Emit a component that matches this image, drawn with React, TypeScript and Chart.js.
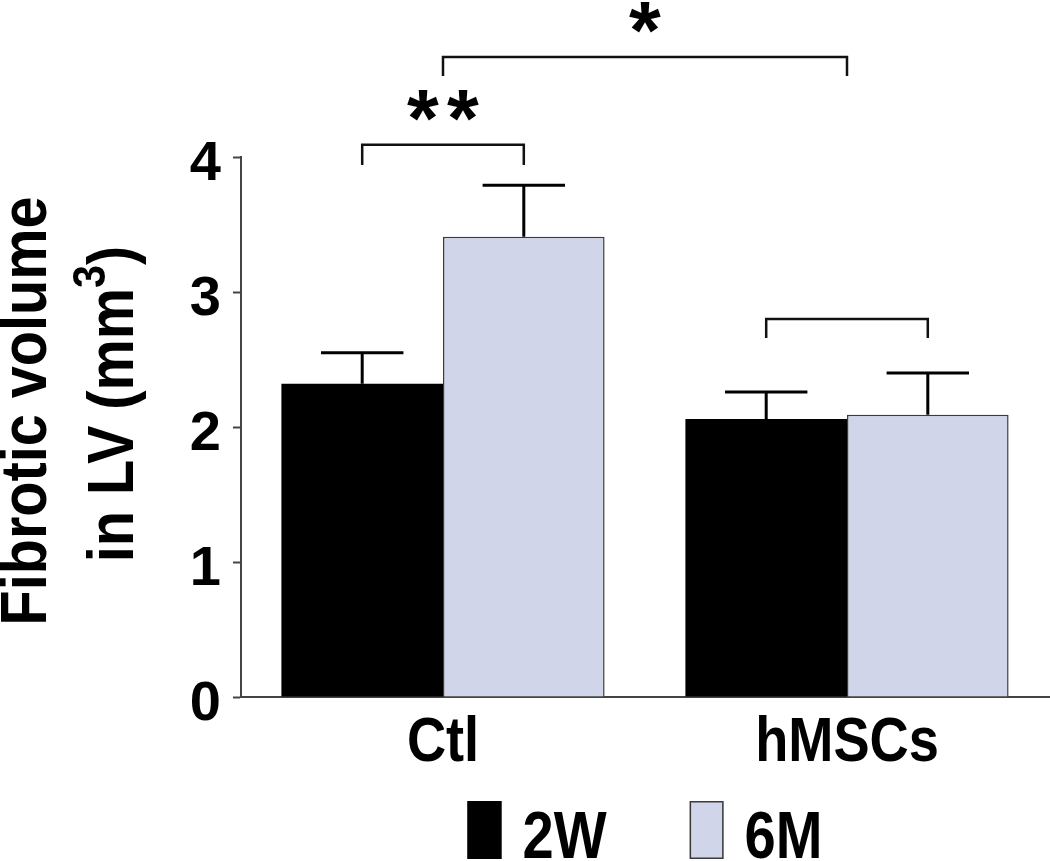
import React, { useEffect, useRef } from "react";
import { Chart, registerables } from "chart.js";

Chart.register(...registerables);

// ---------- data ----------
const categories = ["Ctl", "hMSCs"];
const seriesLabels = ["2W", "6M"];
const values2W = [2.32, 2.06];
const values6M = [3.41, 2.09];
const errors2W = [0.23, 0.2];
const errors6M = [0.38, 0.31];
const yTicks = [0, 1, 2, 3, 4];
const titleLine1 = "Fibrotic volume";
const titleLine2 = ["in LV (mm", "3", ")"];
// significance brackets: from/to = [categoryIndex, datasetIndex] (datasetIndex -1 = group centre)
const bracketFrom = [[0, 0], [0, -1], [1, 0]];
const bracketTo = [[0, 1], [1, -1], [1, 1]];
const bracketLevel = [4.09, 4.74, 2.8];
const bracketDrop = [0.15, 0.14, 0.14];
const bracketMarks = ["**", "*", ""];

const FONT = '"Liberation Sans", Arial, Helvetica, sans-serif';
const BLACK = "#000000";
const LIGHT = "#d0d5ea";
const EDGE = "#3a3a3a";
const AXIS = "#444444";

function drawStar(ctx: CanvasRenderingContext2D, cx: number, bottomY: number, inkH: number) {
  ctx.font = `bold 100px ${FONT}`;
  const m = ctx.measureText("*");
  const h = m.actualBoundingBoxAscent + m.actualBoundingBoxDescent || 30;
  const size = (100 * inkH) / h;
  ctx.font = `bold ${size}px ${FONT}`;
  const m2 = ctx.measureText("*");
  ctx.textAlign = "left";
  ctx.textBaseline = "alphabetic";
  const x0 = cx - (m2.actualBoundingBoxRight - m2.actualBoundingBoxLeft) / 2;
  const yb = bottomY - m2.actualBoundingBoxDescent;
  ctx.fillText("*", x0, yb);
}

const overlayPlugin = {
  id: "overlay",
  afterDraw(chart: any) {
    const ctx: CanvasRenderingContext2D = chart.ctx;
    const ca = chart.chartArea;
    const xs = chart.scales.x;
    const ys = chart.scales.y;
    const metas = [chart.getDatasetMeta(0), chart.getDatasetMeta(1)];
    const valueSets = [values2W, values6M];
    const errorSets = [errors2W, errors6M];
    const px = (cat: number, ds: number) =>
      ds < 0 ? xs.getPixelForValue(cat) : metas[ds].data[cat].x;

    ctx.save();
    // error bars
    ctx.strokeStyle = "#000";
    ctx.lineWidth = 3;
    errorSets.forEach((errs, ds) => {
      errs.forEach((e, i) => {
        const bar = metas[ds].data[i];
        const w = bar.width;
        const yTop = ys.getPixelForValue(valueSets[ds][i]);
        const yErr = ys.getPixelForValue(valueSets[ds][i] + e);
        ctx.beginPath();
        ctx.moveTo(bar.x, yTop);
        ctx.lineTo(bar.x, yErr);
        ctx.moveTo(bar.x - w * 0.255, yErr);
        ctx.lineTo(bar.x + w * 0.255, yErr);
        ctx.stroke();
      });
    });

    // brackets
    ctx.strokeStyle = "#111";
    ctx.lineWidth = 2.5;
    ctx.fillStyle = "#000";
    bracketLevel.forEach((lvl, k) => {
      const x1 = px(bracketFrom[k][0], bracketFrom[k][1]);
      const x2 = px(bracketTo[k][0], bracketTo[k][1]);
      const yb = ys.getPixelForValue(lvl);
      const yd = ys.getPixelForValue(lvl - bracketDrop[k]);
      ctx.beginPath();
      ctx.moveTo(x1, yd);
      ctx.lineTo(x1, yb);
      ctx.lineTo(x2, yb);
      ctx.lineTo(x2, yd);
      ctx.stroke();
      const n = bracketMarks[k].length;
      const cx = (x1 + x2) / 2;
      for (let j = 0; j < n; j++) {
        const sx = cx + (j - (n - 1) / 2) * 40;
        drawStar(ctx, sx, yb - 24, 31);
      }
    });

    // category labels
    ctx.fillStyle = "#000";
    ctx.font = `bold 63px ${FONT}`;
    ctx.textAlign = "center";
    ctx.textBaseline = "alphabetic";
    categories.forEach((c, i) => {
      ctx.save();
      ctx.translate(xs.getPixelForValue(i), ca.bottom + 64);
      ctx.scale(0.86, 1);
      ctx.fillText(c, 0, 0);
      ctx.restore();
    });

    // y title
    const mid = (ca.top + ca.bottom) / 2;
    ctx.save();
    ctx.font = `bold 64px ${FONT}`;
    ctx.translate(46, mid - 16);
    ctx.rotate(-Math.PI / 2);
    ctx.scale(0.9, 1);
    ctx.textAlign = "center";
    ctx.fillText(titleLine1, 0, 0);
    ctx.restore();

    ctx.save();
    ctx.translate(133, mid - 23);
    ctx.rotate(-Math.PI / 2);
    ctx.scale(0.9, 1);
    ctx.textAlign = "left";
    const mainFont = `bold 64px ${FONT}`;
    const supFont = `bold 46px ${FONT}`;
    ctx.font = mainFont;
    const w0 = ctx.measureText(titleLine2[0]).width;
    const w2 = ctx.measureText(titleLine2[2]).width;
    ctx.font = supFont;
    const w1 = ctx.measureText(titleLine2[1]).width;
    let tx = -(w0 + w1 + w2) / 2;
    ctx.font = mainFont;
    ctx.fillText(titleLine2[0], tx, 0);
    tx += w0;
    ctx.font = supFont;
    ctx.fillText(titleLine2[1], tx, -28);
    tx += w1;
    ctx.font = mainFont;
    ctx.fillText(titleLine2[2], tx, 0);
    ctx.restore();

    // legend
    const ds = chart.data.datasets;
    ctx.font = `bold 66px ${FONT}`;
    const tw = seriesLabels.map((l) => ctx.measureText(l).width * 0.85);
    const boxW = 34, boxH = 58, gapBT = 21, gapItems = 83;
    const total = boxW + gapBT + tw[0] + gapItems + boxW + gapBT + tw[1];
    let lx = (ca.left + ca.right) / 2 - total / 2;
    const boxTop = chart.height - 60;
    const baseY = chart.height - 3;
    seriesLabels.forEach((l, i) => {
      ctx.fillStyle = ds[i].backgroundColor;
      ctx.fillRect(lx, boxTop, boxW, boxH);
      ctx.strokeStyle = ds[i].borderColor;
      ctx.lineWidth = 1.5;
      ctx.strokeRect(lx + 0.75, boxTop + 0.75, boxW - 1.5, boxH - 1.5);
      lx += boxW + gapBT;
      ctx.fillStyle = "#000";
      ctx.save();
      ctx.translate(lx, baseY);
      ctx.scale(0.85, 1);
      ctx.textAlign = "left";
      ctx.fillText(l, 0, 0);
      ctx.restore();
      lx += tw[i] + gapItems;
    });
    ctx.restore();
  },
};

export default function App() {
  const ref = useRef<HTMLCanvasElement>(null);
  useEffect(() => {
    if (!ref.current) return;
    const chart = new Chart(ref.current, {
      type: "bar",
      data: {
        labels: categories,
        datasets: [
          { label: seriesLabels[0], data: values2W, backgroundColor: BLACK, borderColor: BLACK, borderWidth: 0 },
          { label: seriesLabels[1], data: values6M, backgroundColor: LIGHT, borderColor: EDGE, borderWidth: 1.5 },
        ],
      },
      options: {
        responsive: false,
        animation: false,
        devicePixelRatio: 1,
        layout: { padding: { top: 157, right: 1, left: 0, bottom: 0 } },
        datasets: { bar: { categoryPercentage: 0.8, barPercentage: 1.0 } },
        plugins: { legend: { display: false }, tooltip: { enabled: false }, title: { display: false } },
        scales: {
          x: {
            grid: { display: false },
            border: { display: true, color: AXIS, width: 2 },
            ticks: { display: false },
            afterFit: (s: any) => {
              s.height = 164;
            },
          },
          y: {
            min: 0,
            max: 4,
            afterFit: (s: any) => {
              s.width = 241;
            },
            afterBuildTicks: (s: any) => {
              s.ticks = yTicks.map((v) => ({ value: v }));
            },
            ticks: {
              color: "#000",
              font: { family: FONT, size: 56, weight: "bold" },
              padding: 12,
              labelOffset: 8,
            },
            grid: { drawOnChartArea: false, tickLength: 8, tickColor: AXIS, tickWidth: 2 },
            border: { color: AXIS, width: 2 },
          },
        },
      } as any,
      plugins: [overlayPlugin],
    });
    return () => chart.destroy();
  }, []);
  return (
    <div style={{ position: "fixed", left: 0, top: 0, width: 1050, height: 861, background: "#fff" }}>
      <canvas ref={ref} width={1050} height={861} style={{ width: 1050, height: 861, display: "block" }} />
    </div>
  );
}
